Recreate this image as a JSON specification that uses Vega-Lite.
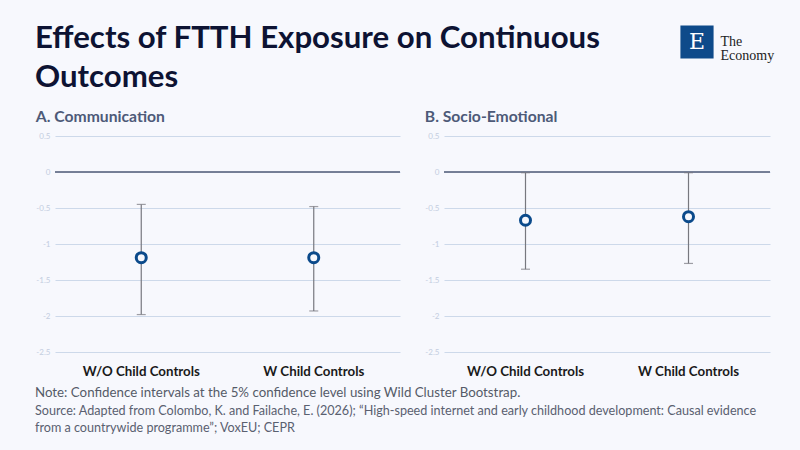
{
  "$schema": "https://vega.github.io/schema/vega-lite/v6.json",
  "background": "#f7f8fd",
  "padding": {"left": 35, "top": 22, "right": 30, "bottom": 30},
  "config": {
    "font": "Lato",
    "view": {"stroke": null},
    "title": {"anchor": "start", "fontWeight": "bold"}
  },
  "datasets": {
    "est": [
      {"panel": "A", "spec": "W/O Child Controls", "est": -1.19, "lo": -1.98, "hi": -0.45},
      {"panel": "A", "spec": "W Child Controls", "est": -1.19, "lo": -1.93, "hi": -0.48},
      {"panel": "B", "spec": "W/O Child Controls", "est": -0.67, "lo": -1.35, "hi": -0.01},
      {"panel": "B", "spec": "W Child Controls", "est": -0.62, "lo": -1.27, "hi": -0.01}
    ]
  },
  "title": {
    "text": "Note: Confidence intervals at the 5% confidence level using Wild Cluster Bootstrap.",
    "subtitle": [
      "Source: Adapted from Colombo, K. and Failache, E. (2026); “High-speed internet and early childhood development: Causal evidence",
      "from a countrywide programme”; VoxEU; CEPR"
    ],
    "orient": "bottom",
    "anchor": "start",
    "fontSize": 13.3,
    "fontWeight": "normal",
    "color": "#555b68",
    "subtitleFontSize": 12.6,
    "subtitleColor": "#5a6070",
    "subtitlePadding": 5,
    "subtitleLineHeight": 17,
    "offset": 9
  },
  "columns": 1,
  "align": "none",
  "spacing": 16,
  "concat": [
    {
      "columns": 3,
      "align": "none",
      "spacing": 6,
      "concat": [
        {
          "width": 619,
          "height": 1,
          "data": {"values": []},
          "mark": "point",
          "title": {
            "text": ["Effects of FTTH Exposure on Continuous", "Outcomes"],
            "fontSize": 31.2,
            "lineHeight": 39,
            "color": "#0d1333",
            "offset": 2,
            "dx": -20,
            "dy": 69
          }
        },
        {
          "width": 34,
          "height": 32,
          "data": {"values": [{"brand": "E"}]},
          "layer": [
            {"mark": {"type": "square", "size": 1100, "color": "#0e4a8a", "opacity": 1}},
            {
              "mark": {"type": "text", "font": "DejaVu Serif", "fontSize": 22, "color": "white"},
              "encoding": {"text": {"field": "brand"}}
            }
          ]
        },
        {
          "width": 1,
          "height": 32,
          "data": {"values": [{"brand": "The Economy"}]},
          "mark": {
            "type": "text",
            "align": "left",
            "font": "Liberation Serif",
            "fontSize": 14,
            "lineHeight": 14,
            "color": "#222222",
            "text": ["The", "Economy"]
          }
        }
      ]
    },
    {
      "spacing": 23,
      "hconcat": [
        {
          "width": 345,
          "height": 216,
          "title": {"text": "A. Communication", "fontSize": 15.7, "color": "#4d5a78", "offset": 6},
          "data": {"name": "est"},
          "transform": [{"filter": "datum.panel == 'A'"}],
          "layer": [
            {
              "mark": {"type": "rule", "color": "#6e7891", "strokeWidth": 1.5},
              "encoding": {"y": {"datum": 0, "type": "quantitative",
                "scale": {"domain": [-2.5, 0.5], "nice": false, "zero": false},
                "axis": {"values": [0.5, 0, -0.5, -1, -1.5, -2, -2.5], "tickCount": 10, "labelExpr": "'' + datum.value", "labelFontSize": 8, "labelColor": "#c3cde0", "grid": true, "gridColor": "#cdd9ea", "domain": false, "ticks": false, "labelPadding": 5, "labelOverlap": false, "title": null}}}
            },
            {
              "mark": {"type": "errorbar", "ticks": {"size": 9}, "thickness": 1.2, "color": "#77787f"},
              "encoding": {
                "x": {"field": "spec", "type": "nominal", "sort": null, "title": null,
                  "scale": {"paddingInner": 0, "paddingOuter": 0},
                  "axis": {"labelAngle": 0, "labelFontSize": 13.3, "labelFontWeight": "bold", "labelColor": "#1a1a1a", "labelPadding": 12, "ticks": false, "domain": false, "grid": false}},
                "y": {"field": "lo", "type": "quantitative", "title": null},
                "y2": {"field": "hi"}
              }
            },
            {
              "mark": {"type": "point", "filled": true, "fill": "#f7f8fd", "stroke": "#0b4a8b", "strokeWidth": 3, "size": 100, "opacity": 1},
              "encoding": {
                "x": {"field": "spec", "type": "nominal", "sort": null},
                "y": {"field": "est", "type": "quantitative"}
              }
            }
          ]
        },
        {
          "width": 326,
          "height": 216,
          "title": {"text": "B. Socio-Emotional", "fontSize": 15.7, "color": "#4d5a78", "offset": 6},
          "data": {"name": "est"},
          "transform": [{"filter": "datum.panel == 'B'"}],
          "layer": [
            {
              "mark": {"type": "rule", "color": "#6e7891", "strokeWidth": 1.5},
              "encoding": {"y": {"datum": 0, "type": "quantitative",
                "scale": {"domain": [-2.5, 0.5], "nice": false, "zero": false},
                "axis": {"values": [0.5, 0, -0.5, -1, -1.5, -2, -2.5], "tickCount": 10, "labelExpr": "'' + datum.value", "labelFontSize": 8, "labelColor": "#c3cde0", "grid": true, "gridColor": "#cdd9ea", "domain": false, "ticks": false, "labelPadding": 5, "labelOverlap": false, "title": null}}}
            },
            {
              "mark": {"type": "errorbar", "ticks": {"size": 9}, "thickness": 1.2, "color": "#77787f"},
              "encoding": {
                "x": {"field": "spec", "type": "nominal", "sort": null, "title": null,
                  "scale": {"paddingInner": 0, "paddingOuter": 0},
                  "axis": {"labelAngle": 0, "labelFontSize": 13.3, "labelFontWeight": "bold", "labelColor": "#1a1a1a", "labelPadding": 12, "ticks": false, "domain": false, "grid": false}},
                "y": {"field": "lo", "type": "quantitative", "title": null},
                "y2": {"field": "hi"}
              }
            },
            {
              "mark": {"type": "point", "filled": true, "fill": "#f7f8fd", "stroke": "#0b4a8b", "strokeWidth": 3, "size": 100, "opacity": 1},
              "encoding": {
                "x": {"field": "spec", "type": "nominal", "sort": null},
                "y": {"field": "est", "type": "quantitative"}
              }
            }
          ]
        }
      ]
    }
  ]
}
